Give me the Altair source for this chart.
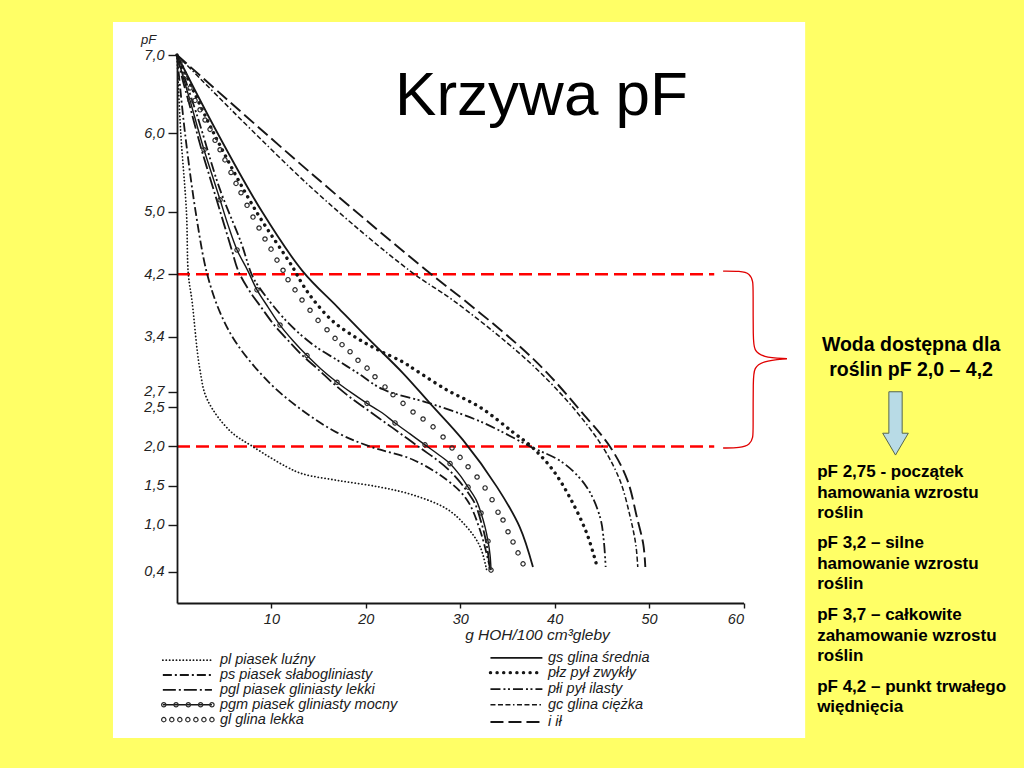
import altair as alt
import pandas as pd

# ---------------- data (x: g HOH/100 cm3, y: pF) ----------------
pl_x = [0, 0.4, 1.0, 1.2, 1.6, 2.4, 3.2, 5.6, 8.0, 11.6, 13.3, 17.3, 21.5, 25.0, 28.6, 30.7, 32.1, 32.8]
pl_y = [7.0, 6.0, 5.0, 4.2, 3.85, 3.0, 2.6, 2.2, 2.0, 1.74, 1.65, 1.56, 1.48, 1.38, 1.2, 0.97, 0.72, 0.42]

ps_x = [0, 0.85, 2.1, 3.2, 4.6, 6.4, 9.9, 13.4, 16.9, 20.4, 25.0, 28.6, 30.7, 32.1, 33.2]
ps_y = [7.0, 6.0, 4.9, 4.2, 3.7, 3.3, 2.8, 2.45, 2.18, 2.0, 1.83, 1.57, 1.32, 0.93, 0.42]

pgl_x = [0, 0.6, 1.2, 1.9, 2.6, 3.4, 4.2, 5.0, 5.8, 6.5, 7.6, 8.9, 10.3, 11.8, 13.3, 14.9, 16.6,
         18.2, 19.8, 21.4, 22.8, 24.4, 26.0, 27.4, 28.7, 29.8, 30.7, 31.6, 32.1, 32.5, 32.8, 33.0, 33.1]
pgl_y = [7.0, 6.68, 6.42, 6.10, 5.79, 5.47, 5.15, 4.83, 4.51, 4.24, 4.0, 3.78, 3.55, 3.35, 3.16, 2.99, 2.80,
         2.64, 2.50, 2.36, 2.24, 2.10, 1.96, 1.84, 1.71, 1.57, 1.43, 1.26, 1.08, 0.91, 0.74, 0.58, 0.42]

pgm_x = [0, 0.74, 1.38, 2.12, 2.86, 3.71, 4.56, 5.40, 6.36, 7.52, 8.47, 9.64, 10.91, 12.29, 13.77, 15.25,
         16.95, 18.54, 20.13, 21.72, 23.09, 24.68, 26.27, 27.65, 28.92, 29.98, 30.83, 31.67, 32.20, 32.63,
         32.94, 33.16, 33.26]
pgm_y = [7.0, 6.68, 6.42, 6.10, 5.79, 5.47, 5.15, 4.83, 4.51, 4.24, 4.00, 3.78, 3.55, 3.35, 3.16, 2.99,
         2.82, 2.68, 2.55, 2.43, 2.30, 2.16, 2.02, 1.90, 1.78, 1.63, 1.48, 1.32, 1.15, 0.97, 0.79, 0.61, 0.42]

gl_x = [0.32, 0.85, 1.38, 1.91, 2.44, 2.97, 3.50, 4.03, 4.56, 5.08, 5.72, 6.25, 6.78, 7.42, 8.05, 8.69,
        9.32, 9.96, 10.59, 11.23, 11.76, 12.50, 13.24, 14.09, 14.94, 15.89, 16.74, 17.48, 18.33, 19.17,
        20.13, 20.97, 22.03, 22.88, 23.94, 25.00, 26.06, 27.12, 28.18, 29.13, 29.98, 30.83, 31.78, 32.63,
        33.37, 34.00, 34.53, 35.06, 35.59, 36.12, 36.65]
gl_y = [6.91, 6.74, 6.58, 6.42, 6.30, 6.17, 6.05, 5.91, 5.79, 5.66, 5.50, 5.36, 5.24, 5.08, 4.93, 4.79,
        4.65, 4.52, 4.38, 4.25, 4.13, 4.00, 3.87, 3.74, 3.61, 3.49, 3.38, 3.30, 3.21, 3.10, 3.00, 2.89,
        2.76, 2.66, 2.55, 2.44, 2.35, 2.25, 2.12, 1.98, 1.86, 1.74, 1.61, 1.47, 1.32, 1.16, 1.06, 0.91,
        0.78, 0.64, 0.50]

gs_x = [0, 4.3, 9.0, 13.3, 17.0, 20.4, 23.9, 26.8, 30.3, 33.9, 36.3, 37.7]
gs_y = [7.0, 6.0, 5.0, 4.24, 3.78, 3.36, 2.94, 2.55, 2.08, 1.48, 0.97, 0.46]

plz_x = [0, 3.9, 8.4, 12.2, 13.3, 14.4, 16.5, 19.1, 21.5, 23.9, 25.2, 28.6, 32.1,
         35.6, 37.7, 39.8, 41.6, 43.4, 44.5]
plz_y = [7.0, 6.0, 5.0, 4.3, 4.07, 3.88, 3.6, 3.38, 3.22, 3.08, 2.98, 2.72, 2.50,
         2.18, 1.98, 1.70, 1.35, 0.89, 0.46]

pli_x = [0, 2.2, 4.5, 6.8, 7.9, 8.6, 11.6, 14.4, 17.0, 19.1, 21.8, 26.8, 32.1, 37.4, 40.9, 43.4, 44.8, 45.2, 45.4]
pli_y = [7.0, 6.2, 5.3, 4.6, 4.2, 4.05, 3.6, 3.3, 3.1, 2.94, 2.73, 2.55, 2.32, 2.0, 1.79, 1.48, 1.10, 0.8, 0.46]

gc_x = [0, 14.1, 24.7, 29.2, 35.0, 38.5, 42.2, 45.1, 46.9, 48.0, 48.6, 48.8]
gc_y = [7.0, 5.32, 4.24, 3.87, 3.32, 2.94, 2.46, 1.99, 1.57, 1.10, 0.74, 0.46]

il_x = [0, 14.1, 26.5, 30.4, 35.9, 39.2, 42.7, 45.9, 47.7, 48.7, 49.4, 49.6]
il_y = [7.0, 5.5, 4.24, 3.87, 3.32, 2.94, 2.46, 1.99, 1.57, 1.10, 0.74, 0.46]

# axis ticks
y_ticks = [0.4, 1.0, 1.5, 2.0, 2.5, 2.7, 3.4, 4.2, 5.0, 6.0, 7.0]
x_ticks = [10, 20, 30, 40, 50, 60]
pf_levels = [4.2, 2.0]

# legend
leg_left_text = ["pl piasek luźny", "ps piasek słabogliniasty", "pgl piasek gliniasty lekki",
                 "pgm piasek gliniasty mocny", "gl glina lekka"]
leg_right_text = ["gs glina średnia", "płz pył zwykły", "płi pył ilasty", "gc glina ciężka", "i ił"]
leg_rows_left = [-0.73, -0.92, -1.11, -1.30, -1.49]
leg_rows_right = [-0.70, -0.89, -1.10, -1.30, -1.52]
leg_left_sym = [-1.5, 3.7]
leg_right_sym = [33.2, 38.7]
leg_left_tx = 4.55
leg_right_tx = 39.3

# slide texts
title_text = "Krzywa pF"
head_lines = ["Woda dostępna dla", "roślin pF 2,0 – 4,2"]
note_lines = ["pF 2,75 - początek", "hamowania wzrostu", "roślin",
              "pF 3,2 – silne", "hamowanie wzrostu", "roślin",
              "pF 3,7 – całkowite", "zahamowanie wzrostu", "roślin",
              "pF 4,2 – punkt trwałego", "więdnięcia"]
note_rows = [1.673, 1.405, 1.149, 0.766, 0.498, 0.243, -0.153, -0.421, -0.677, -1.073, -1.328]
head_rows = [3.295, 2.976]

# decorations (in data units)
panel = dict(x=-6.78, x2=66.53, y=7.42, y2=-1.724)
brace_x = [57.84, 59.64, 60.7, 61.02, 61.02, 61.02, 61.12, 61.97, 64.6, 64.6, 64.6, 61.97, 61.12,
           61.02, 61.02, 61.02, 60.7, 59.64, 57.84]
brace_y = [4.24, 4.24, 4.21, 4.10, 4.0, 3.36, 3.23, 3.14, 3.12, 3.12, 3.12, 3.09, 3.0,
           2.87, 2.21, 2.12, 2.02, 1.98, 1.98]

INK = "#161616"
FONT = "Liberation Sans"
XS = alt.Scale(domain=[0, 60], nice=False, zero=False)
YS = alt.Scale(domain=[0, 7], nice=False, zero=False)

XAX = alt.Axis(values=x_ticks, title="g HOH/100 cm³gleby", grid=False, zindex=1,
               domainColor=INK, domainWidth=1.8, tickColor=INK, tickWidth=1.4, tickSize=5,
               labelFont=FONT, labelFontStyle="italic", labelFontSize=14.5, labelColor="#222",
               labelPadding=4, titleFont=FONT, titleFontStyle="italic", titleFontWeight="normal",
               titleFontSize=15.5, titleColor="#222", titleX=360, titleY=31,
               titleAlign="center", titleBaseline="middle")
YAX = alt.Axis(values=y_ticks, title="pF", grid=False, zindex=1,
               labelExpr="replace(format(datum.value, '.1f'), '.', ',')",
               domainColor=INK, domainWidth=1.8, tickColor=INK, tickWidth=1.4, tickSize=9,
               labelFont=FONT, labelFontStyle="italic", labelFontSize=14.5, labelColor="#222",
               labelPadding=4, titleFont=FONT, titleFontStyle="italic", titleFontWeight="normal",
               titleFontSize=13, titleColor="#222", titleAngle=0, titleX=-29, titleY=-16,
               titleAlign="center", titleBaseline="middle")


def X(f="x"):
    return alt.X(f"{f}:Q", scale=XS, axis=XAX)


def Y(f="y"):
    return alt.Y(f"{f}:Q", scale=YS, axis=YAX)


layers = []

# white scanned panel
layers.append(alt.Chart(pd.DataFrame([panel])).mark_rect(color="white").encode(
    x=X(), x2="x2:Q", y=Y(), y2="y2:Q"))

# red dashed pF levels
layers.append(alt.Chart(pd.DataFrame({"y": pf_levels, "x": [0, 0], "x2": [56.9, 56.9]})).mark_rule(
    color="#ff0000", strokeWidth=2.6, strokeDash=[13, 6]).encode(x=X(), x2="x2:Q", y=Y()))

# brace
layers.append(alt.Chart(pd.DataFrame({"x": brace_x, "y": brace_y, "i": list(range(len(brace_x)))}))
              .mark_line(color="#e00000", strokeWidth=1.3, interpolate="basis")
              .encode(x=X(), y=Y(), order="i:Q"))

styles = {
    "pl": dict(strokeWidth=1.8, strokeDash=[0.1, 3.3], strokeCap="round"),
    "ps": dict(strokeWidth=1.8, strokeDash=[9, 3, 2, 3]),
    "pgl": dict(strokeWidth=1.8, strokeDash=[13, 3, 2, 3]),
    "pgm": dict(strokeWidth=1.4),
    "gs": dict(strokeWidth=1.8),
    "plz": dict(strokeWidth=3.4, strokeDash=[0.1, 6.5], strokeCap="round"),
    "pli": dict(strokeWidth=1.8, strokeDash=[10, 3, 2, 2.5, 2, 3]),
    "gc": dict(strokeWidth=1.5, strokeDash=[5, 2.5, 5, 2.5, 5, 2.5, 1.5, 2.5]),
    "il": dict(strokeWidth=1.9, strokeDash=[13, 5]),
}
curves = {
    "pl": (pl_x, pl_y, leg_left_sym, leg_rows_left[0]),
    "ps": (ps_x, ps_y, leg_left_sym, leg_rows_left[1]),
    "pgl": (pgl_x, pgl_y, leg_left_sym, leg_rows_left[2]),
    "pgm": (pgm_x, pgm_y, leg_left_sym, leg_rows_left[3]),
    "gs": (gs_x, gs_y, leg_right_sym, leg_rows_right[0]),
    "plz": (plz_x, plz_y, leg_right_sym, leg_rows_right[1]),
    "pli": (pli_x, pli_y, leg_right_sym, leg_rows_right[2]),
    "gc": (gc_x, gc_y, leg_right_sym, leg_rows_right[3]),
    "il": (il_x, il_y, leg_right_sym, leg_rows_right[4]),
}
for key, (cx, cy, lsym, lrow) in curves.items():
    df = pd.concat([
        pd.DataFrame({"x": cx, "y": cy, "seg": "curve"}),
        pd.DataFrame({"x": lsym, "y": [lrow, lrow], "seg": "legend"}),
    ])
    layers.append(alt.Chart(df).mark_line(color=INK, interpolate="catmull-rom", **styles[key])
                  .encode(x=X(), y=Y(), detail="seg:N"))

# open circles: gl curve and its legend, pgm circles and its legend
gl_leg_x = [-1.4, -0.55, 0.3, 1.15, 2.0, 2.85, 3.7]
pgm_leg_x = [-1.4, -0.1, 1.2, 2.5, 3.7]
circ = pd.concat([
    pd.DataFrame({"x": gl_x, "y": gl_y}),
    pd.DataFrame({"x": gl_leg_x, "y": [leg_rows_left[4]] * len(gl_leg_x)}),
    pd.DataFrame({"x": pgm_x[2::2], "y": pgm_y[2::2]}),
    pd.DataFrame({"x": pgm_leg_x, "y": [leg_rows_left[3]] * len(pgm_leg_x)}),
])
layers.append(alt.Chart(circ).mark_point(shape="circle", filled=False, size=19, strokeWidth=1.2,
                                         color="#2a2a2a", opacity=1).encode(x=X(), y=Y()))

# legend labels
leg_df = pd.DataFrame({
    "x": [leg_left_tx] * 5 + [leg_right_tx] * 5,
    "y": leg_rows_left + leg_rows_right,
    "t": leg_left_text + leg_right_text,
})
layers.append(alt.Chart(leg_df).mark_text(align="left", baseline="middle", font=FONT, fontSize=14.5,
                                          fontStyle="italic", color="#1a1a1a")
              .encode(x=X(), y=Y(), text="t:N"))

# title
layers.append(alt.Chart(pd.DataFrame({"x": [23.1], "y": [6.23], "t": [title_text]}))
              .mark_text(align="left", baseline="alphabetic", font=FONT, fontSize=62, color="black")
              .encode(x=X(), y=Y(), text="t:N"))

# right-hand texts
layers.append(alt.Chart(pd.DataFrame({"x": [77.75, 77.75], "y": head_rows, "t": head_lines}))
              .mark_text(align="center", baseline="middle", font=FONT, fontSize=19.5, fontWeight="bold",
                         color="black")
              .encode(x=X(), y=Y(), text="t:N"))
layers.append(alt.Chart(pd.DataFrame({"x": [67.8] * len(note_lines), "y": note_rows, "t": note_lines}))
              .mark_text(align="left", baseline="middle", font=FONT, fontSize=17, fontWeight="bold",
                         color="black")
              .encode(x=X(), y=Y(), text="t:N"))

# arrow
ARROW = "M -0.21 -1 L 0.21 -1 L 0.21 0.31 L 0.405 0.31 L 0 1 L -0.405 0.31 L -0.21 0.31 Z"
layers.append(alt.Chart(pd.DataFrame({"x": [76.1], "y": [2.294]}))
              .mark_point(shape=ARROW, size=4007, filled=True, fill="#b8dbe6", stroke="#56664e",
                          strokeWidth=1, opacity=1, fillOpacity=1)
              .encode(x=X(), y=Y()))

chart = alt.layer(*layers).properties(
    width=566.5, height=548,
    autosize=alt.AutoSizeParams(type="none"),
    padding={"left": 177, "top": 55, "right": 280.5, "bottom": 165},
    background="#ffff66",
).configure_view(stroke=None)

chart.save("out.html", embed_options={"renderer": "svg", "actions": False})
